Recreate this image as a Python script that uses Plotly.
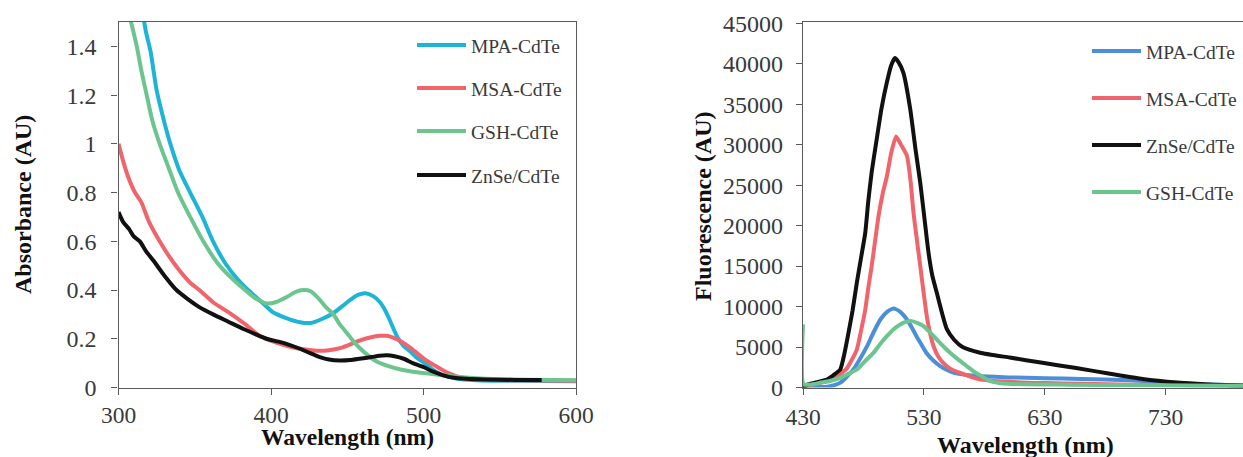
import plotly.graph_objects as go

# ---------------- Left panel: absorbance ----------------
abs_names = ["MPA-CdTe", "MSA-CdTe", "GSH-CdTe", "ZnSe/CdTe"]
abs_colors = ["#1EB4D6", "#F0646B", "#6CC48F", "#111111"]

mpa_abs_wl = [316, 318, 321, 325, 330, 334, 340, 347, 355, 362, 370, 378, 385, 394, 401, 410, 419, 426, 433, 441, 447, 452, 457, 462, 467, 471.5, 475, 478, 483, 487, 491, 495, 500, 505, 511, 518, 525, 535, 550, 575, 600]
mpa_abs = [1.53, 1.46, 1.38, 1.22, 1.09, 1.0, 0.89, 0.8, 0.70, 0.6, 0.51, 0.445, 0.4, 0.35, 0.31, 0.285, 0.268, 0.265, 0.28, 0.306, 0.335, 0.36, 0.38, 0.387, 0.375, 0.35, 0.315, 0.275, 0.205, 0.17, 0.15, 0.125, 0.103, 0.078, 0.055, 0.042, 0.034, 0.03, 0.028, 0.027, 0.026]

msa_abs_wl = [300, 303, 306, 310.8, 315, 320, 327, 333, 340, 347, 353, 362, 373, 383, 393, 403, 412, 419, 428, 436.5, 442, 447, 452, 458, 465, 471.5, 476, 480, 485, 491, 496, 502, 508, 513, 518, 524, 530, 540, 560, 600]
msa_abs = [1.0, 0.93, 0.87, 0.8, 0.76, 0.68, 0.6, 0.54, 0.48, 0.43, 0.4, 0.35, 0.305, 0.26, 0.21, 0.185, 0.168, 0.159, 0.152, 0.152, 0.157, 0.165, 0.177, 0.192, 0.205, 0.212, 0.212, 0.205, 0.19, 0.165, 0.14, 0.11, 0.088, 0.07, 0.055, 0.042, 0.036, 0.032, 0.03, 0.028]

gsh_abs_wl = [307, 309, 312, 315, 318.5, 322, 327, 333, 339, 347, 355.6, 365, 374, 383, 390, 397, 403, 410, 416, 421, 426, 432, 436, 441, 445, 450, 454, 458, 463, 469, 476, 485, 493, 502, 517, 530, 545, 570, 600]
gsh_abs = [1.53, 1.48, 1.4, 1.3, 1.2, 1.1, 1.0, 0.9, 0.8, 0.7, 0.6, 0.51, 0.45, 0.4, 0.365, 0.345, 0.35, 0.37, 0.392, 0.4, 0.395, 0.36, 0.33, 0.3, 0.26, 0.222, 0.19, 0.163, 0.135, 0.108, 0.09, 0.074, 0.065, 0.058, 0.047, 0.04, 0.035, 0.032, 0.03]

znse_abs_wl = [300, 303, 307, 310, 314, 318, 323, 330, 338, 345, 353, 362, 372, 382, 390, 397, 405, 412, 419, 426, 432, 438, 445, 452, 458, 466, 471, 476, 481, 487, 493, 500, 506, 513, 520, 528, 540, 560, 577.5]
znse_abs = [0.72, 0.68, 0.65, 0.62, 0.6, 0.56, 0.52, 0.46, 0.4, 0.365, 0.33, 0.3, 0.27, 0.24, 0.218, 0.2, 0.188, 0.175, 0.159, 0.14, 0.125, 0.115, 0.111, 0.113, 0.118, 0.125, 0.13, 0.132, 0.128, 0.118, 0.1, 0.084, 0.066, 0.05, 0.04, 0.036, 0.033, 0.031, 0.031]

abs_x = [mpa_abs_wl, msa_abs_wl, gsh_abs_wl, znse_abs_wl]
abs_y = [mpa_abs, msa_abs, gsh_abs, znse_abs]
abs_xticks = [300, 400, 500, 600]

# ---------------- Right panel: fluorescence ----------------
fl_names = ["MPA-CdTe", "MSA-CdTe", "ZnSe/CdTe", "GSH-CdTe"]
fl_colors = ["#4A8FD8", "#F0646B", "#111111", "#6CC48F"]

mpa_fl_wl = [430, 440, 450, 455, 461, 466, 472, 477, 483, 488, 494, 500, 505, 510, 516, 520, 524, 528, 532, 538, 543.5, 550, 555, 565, 577, 600, 630, 660, 700, 730, 760, 795]
mpa_fl = [0, 50, 100, 250, 600, 1300, 2300, 3500, 5100, 6700, 8400, 9400, 9750, 9400, 8400, 7400, 6300, 5300, 4300, 3300, 2650, 2100, 1800, 1550, 1400, 1250, 1150, 1050, 900, 650, 400, 250]

msa_fl_wl = [430, 436, 445, 455, 461, 466, 470, 474.6, 478, 481.5, 484, 486.8, 490, 492.5, 496, 499.4, 503, 507, 511, 516, 519, 521.4, 524, 527, 530, 532.4, 535, 538, 542, 546, 552, 560, 576, 600, 630, 660, 700, 750, 795]
msa_fl = [0, 300, 600, 1000, 1700, 2300, 3300, 4700, 7000, 9600, 12300, 15000, 18500, 21200, 24000, 26100, 29000, 31000, 30000, 28600, 25500, 21600, 18500, 15000, 11500, 8800, 6800, 5100, 3800, 3050, 2300, 1800, 1000, 700, 550, 450, 350, 250, 150]

znse_fl_wl = [430, 433, 440, 449.8, 455, 460.8, 464, 467.7, 471, 474.6, 478, 481.5, 484, 486.8, 491, 495, 499.4, 503, 506, 509, 513, 518.7, 523, 527, 530, 533.8, 537, 540.7, 545, 549, 555, 562, 576.5, 601, 628, 656, 684, 711, 739, 766, 795]
znse_fl = [0, 330, 600, 990, 1500, 2225, 4000, 6800, 9500, 13000, 16000, 19100, 23000, 26600, 30700, 34500, 37700, 39800, 40700, 40200, 38900, 34400, 29500, 25300, 21500, 16700, 13800, 11700, 9200, 7200, 5900, 5000, 4300, 3700, 3050, 2400, 1700, 1050, 620, 370, 250]

gsh_fl_wl = [430, 430.6, 440, 444, 452, 460.8, 467, 474.6, 481, 488.4, 494, 499.4, 505, 510.4, 515, 520, 525, 529.7, 535, 540.7, 546, 551.7, 558, 565.5, 572, 576.5, 582, 587, 600, 650, 700, 750, 795]
gsh_fl = [7800, 400, 450, 580, 800, 1200, 1650, 2225, 3200, 4300, 5400, 6340, 7200, 7790, 8100, 8200, 7950, 7580, 6800, 5930, 5100, 4300, 3500, 2640, 1900, 1500, 1000, 700, 450, 350, 300, 250, 200]

fl_x = [mpa_fl_wl, msa_fl_wl, znse_fl_wl, gsh_fl_wl]
fl_y = [mpa_fl, msa_fl, znse_fl, gsh_fl]
fl_xticks = [430, 530, 630, 730]

# ---------------- Figure ----------------
W, H = 1243, 457
FONT = "Liberation Serif, Times New Roman, serif"
AXC = "#5a5a5a"
TXC = "#3a3a3a"

fig = go.Figure()
for xs, ys, n, c in zip(abs_x, abs_y, abs_names, abs_colors):
    fig.add_trace(go.Scatter(x=xs, y=ys, name=n, mode="lines",
                             line=dict(color=c, width=4, shape="spline", smoothing=0.6),
                             xaxis="x", yaxis="y", showlegend=False))
for xs, ys, n, c in zip(fl_x, fl_y, fl_names, fl_colors):
    fig.add_trace(go.Scatter(x=xs, y=ys, name=n, mode="lines",
                             line=dict(color=c, width=4, shape="spline", smoothing=0.5),
                             xaxis="x2", yaxis="y2", showlegend=False))

ydom = [1 - 387.5 / H, 1 - 22 / H]
common = dict(showgrid=False, zeroline=False, showline=True, linecolor=AXC, linewidth=1.3,
              ticks="outside", ticklen=6, tickcolor=AXC, tickwidth=1.3, automargin=False)
tick_big = dict(family=FONT, size=24, color=TXC)
tick_x = dict(family=FONT, size=23.5, color=TXC)

fig.update_layout(
    template="none",
    width=W, height=H, margin=dict(l=0, r=0, t=0, b=0, autoexpand=False),
    paper_bgcolor="white", plot_bgcolor="white", showlegend=False,
    xaxis=dict(domain=[118.5 / W, 576 / W], range=[300, 600], tickvals=abs_xticks, mirror=True,
               anchor="y", ticklabelstandoff=0, tickfont=tick_x, **common),
    yaxis=dict(domain=ydom, range=[0, 1.5], dtick=0.2, tick0=0, mirror=True, anchor="x",
               ticklabelstandoff=10, tickfont=tick_big, **common),
    xaxis2=dict(domain=[803 / W, 1.0], range=[430, 794], tickvals=fl_xticks, mirror=True,
                anchor="y2", ticklabelstandoff=2, tickfont=tick_x, **common),
    yaxis2=dict(domain=ydom, range=[0, 45150], dtick=5000, tick0=0, tickformat="d", mirror=False,
                anchor="x2", ticklabelstandoff=8, tickfont=tick_big, **common),
)

# axis titles
tfont = dict(family=FONT, size=24, color="#111111")
ann = [
    dict(text="<b>Absorbance (AU)</b>", x=23 / W, y=1 - 205 / H, textangle=-90, size=24),
    dict(text="<b>Wavelength (nm)</b>", x=347.5 / W, y=1 - 436.5 / H, textangle=0, size=23.5),
    dict(text="<b>Fluorescence (AU)</b>", x=703 / W, y=1 - 206 / H, textangle=-90, size=24),
    dict(text="<b>Wavelength (nm)</b>", x=1025 / W, y=1 - 444.5 / H, textangle=0, size=24),
]
for a in ann:
    sz = a.pop("size")
    fig.add_annotation(xref="paper", yref="paper", xanchor="center", yanchor="middle",
                       showarrow=False, font=dict(family=FONT, size=sz, color="#111111"), **a)

# legends (drawn per panel)
lfont = dict(family=FONT, size=19.5, color=TXC)

def legend(names, colors, x0, x1, ys):
    for n, c, yy in zip(names, colors, ys):
        fig.add_shape(type="line", xref="paper", yref="paper", x0=x0 / W, x1=x1 / W,
                      y0=1 - yy / H, y1=1 - yy / H, line=dict(color=c, width=4))
        fig.add_annotation(xref="paper", yref="paper", x=(x1 + 3) / W, y=1 - (yy + 1.5) / H,
                           xanchor="left", yanchor="middle", text=n, showarrow=False, font=lfont)

legend(abs_names, abs_colors, 417, 466, [45, 88, 131, 175])
legend(fl_names, fl_colors, 1092, 1141, [51, 98, 145, 192])

fig.write_html("out.html")
